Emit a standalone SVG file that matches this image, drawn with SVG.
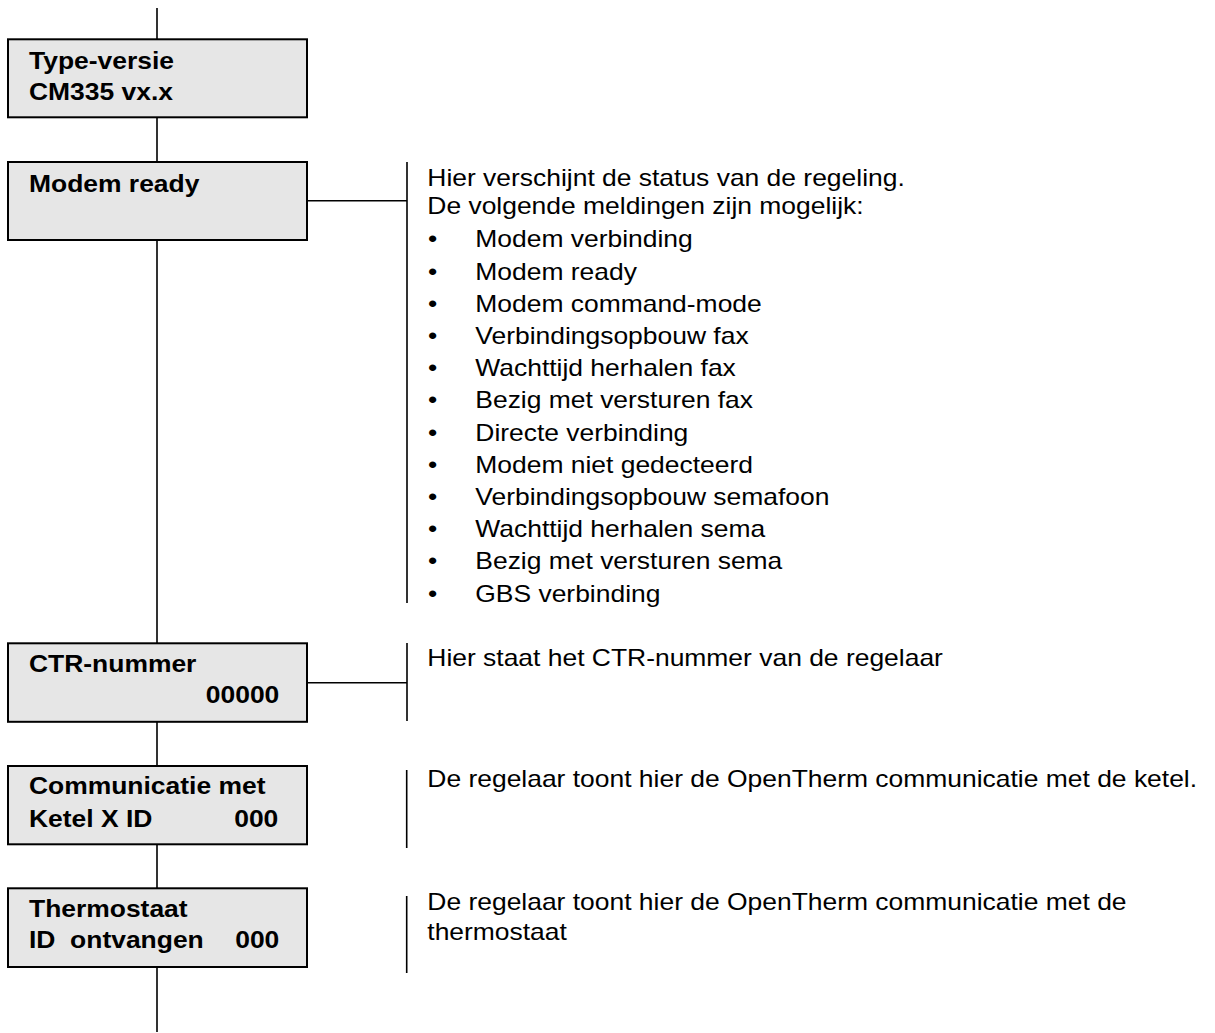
<svg xmlns="http://www.w3.org/2000/svg" width="1215" height="1033" viewBox="0 0 1215 1033">
<style>
.box{fill:#e6e6e6;stroke:#000;stroke-width:2}
.ln{stroke:#000;stroke-width:1.6;fill:none}
.b{font-family:"Liberation Sans",Arial,sans-serif;font-weight:bold;font-size:23px;fill:#000}
.r{font-family:"Liberation Sans",Arial,sans-serif;font-size:23px;fill:#000}
.e{text-anchor:end}
</style>
<rect width="1215" height="1033" fill="#fff"/>
<g id="connectors">
<path class="ln" d="M157 8V39M157 117V162M157 240V643M157 722V766M157 844V888M157 967V1032"/>
<path class="ln" d="M307 200.7H407M307 682.7H407"/>
<path class="ln" d="M407 162V603M407 643V721M406.7 770V848M406.7 896V973"/>
</g>
<g id="node-type">
<rect class="box" x="8" y="39.3" width="299" height="78"/>
<text class="b" transform="translate(29 68.5) scale(1.15 1)">Type-versie</text>
<text class="b" transform="translate(29 99.5) scale(1.15 1)">CM335 vx.x</text>
</g>
<g id="node-modem">
<rect class="box" x="8" y="162" width="299" height="78"/>
<text class="b" transform="translate(29 191.7) scale(1.15 1)">Modem ready</text>
</g>
<g id="node-ctr">
<rect class="box" x="8" y="643.3" width="299" height="78.5"/>
<text class="b" transform="translate(29 672) scale(1.15 1)">CTR-nummer</text>
<text class="b e" transform="translate(279.3 703) scale(1.15 1)">00000</text>
</g>
<g id="node-ketel">
<rect class="box" x="8" y="766" width="299" height="78.3"/>
<text class="b" transform="translate(29 794) scale(1.15 1)">Communicatie met</text>
<text class="b" transform="translate(29 826.5) scale(1.15 1)">Ketel X ID</text>
<text class="b e" transform="translate(278.3 826.5) scale(1.15 1)">000</text>
</g>
<g id="node-thermostaat">
<rect class="box" x="8" y="888.3" width="299" height="78.7"/>
<text class="b" transform="translate(29 916.7) scale(1.15 1)">Thermostaat</text>
<text class="b" xml:space="preserve" style="white-space:pre" transform="translate(29 948) scale(1.15 1)">ID  ontvangen</text>
<text class="b e" transform="translate(279.3 948) scale(1.15 1)">000</text>
</g>
<g id="note-modem">
<text class="r" transform="translate(427.3 185.7) scale(1.15 1)">Hier verschijnt de status van de regeling.</text>
<text class="r" transform="translate(427.3 214.3) scale(1.15 1)">De volgende meldingen zijn mogelijk:</text>
<text class="r" transform="translate(428 247.3) scale(1.15 1)">•</text><text class="r" transform="translate(475.3 247.3) scale(1.15 1)">Modem verbinding</text>
<text class="r" transform="translate(428 279.5) scale(1.15 1)">•</text><text class="r" transform="translate(475.3 279.5) scale(1.15 1)">Modem ready</text>
<text class="r" transform="translate(428 311.7) scale(1.15 1)">•</text><text class="r" transform="translate(475.3 311.7) scale(1.15 1)">Modem command-mode</text>
<text class="r" transform="translate(428 343.9) scale(1.15 1)">•</text><text class="r" transform="translate(475.3 343.9) scale(1.15 1)">Verbindingsopbouw fax</text>
<text class="r" transform="translate(428 376.1) scale(1.15 1)">•</text><text class="r" transform="translate(475.3 376.1) scale(1.15 1)">Wachttijd herhalen fax</text>
<text class="r" transform="translate(428 408.3) scale(1.15 1)">•</text><text class="r" transform="translate(475.3 408.3) scale(1.15 1)">Bezig met versturen fax</text>
<text class="r" transform="translate(428 440.5) scale(1.15 1)">•</text><text class="r" transform="translate(475.3 440.5) scale(1.15 1)">Directe verbinding</text>
<text class="r" transform="translate(428 472.7) scale(1.15 1)">•</text><text class="r" transform="translate(475.3 472.7) scale(1.15 1)">Modem niet gedecteerd</text>
<text class="r" transform="translate(428 504.9) scale(1.15 1)">•</text><text class="r" transform="translate(475.3 504.9) scale(1.15 1)">Verbindingsopbouw semafoon</text>
<text class="r" transform="translate(428 537.1) scale(1.15 1)">•</text><text class="r" transform="translate(475.3 537.1) scale(1.15 1)">Wachttijd herhalen sema</text>
<text class="r" transform="translate(428 569.3) scale(1.15 1)">•</text><text class="r" transform="translate(475.3 569.3) scale(1.15 1)">Bezig met versturen sema</text>
<text class="r" transform="translate(428 601.5) scale(1.15 1)">•</text><text class="r" transform="translate(475.3 601.5) scale(1.15 1)">GBS verbinding</text>
</g>
<g id="note-ctr">
<text class="r" transform="translate(427.3 665.5) scale(1.15 1)">Hier staat het CTR-nummer van de regelaar</text>
</g>
<g id="note-ketel">
<text class="r" transform="translate(427.3 787.3) scale(1.15 1)">De regelaar toont hier de OpenTherm communicatie met de ketel.</text>
</g>
<g id="note-thermostaat">
<text class="r" transform="translate(427.3 910) scale(1.15 1)">De regelaar toont hier de OpenTherm communicatie met de</text>
<text class="r" transform="translate(427.3 940) scale(1.15 1)">thermostaat</text>
</g>
</svg>
